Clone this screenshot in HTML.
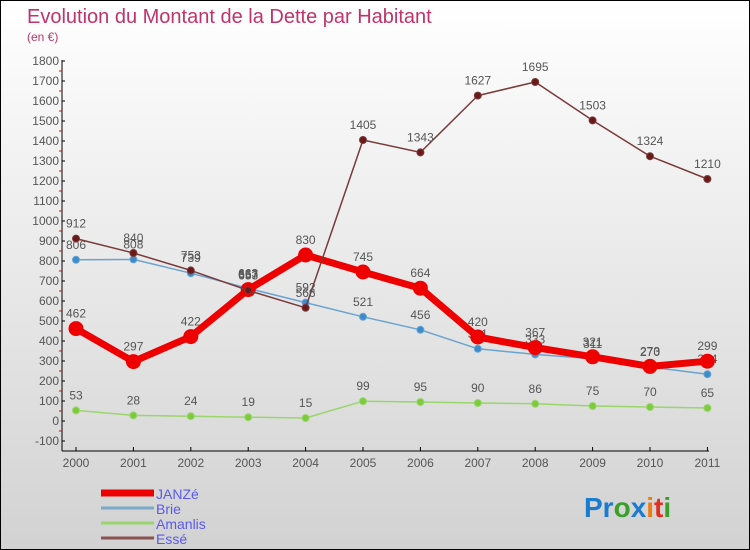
<!DOCTYPE html>
<html><head><meta charset="utf-8"><style>
body{margin:0}
#c{width:748px;height:548px;border:1px solid #000;background:linear-gradient(#fff,#d2d2d2);position:relative;font-family:"Liberation Sans",sans-serif;overflow:hidden}
</style></head><body>
<div id="c">
<svg id="s" width="748" height="548" style="position:absolute;left:0;top:0">
<text x="26" y="22" font-size="20" fill="#c0336a">Evolution du Montant de la Dette par Habitant</text>
<text x="26" y="40" font-size="12" fill="#c0336a">(en €)</text>
<g id="ax"></g><g id="ser"></g>
<text x="583" y="516" font-size="28" font-weight="bold"><tspan fill="#1a7bd0">Pr</tspan><tspan fill="#3aa02a">o</tspan><tspan fill="#1a7bd0">x</tspan><tspan fill="#f07a10">i</tspan><tspan fill="#e03020">t</tspan><tspan fill="#3aa02a">i</tspan></text>
</svg>
</div>
<script>
const years=[2000,2001,2002,2003,2004,2005,2006,2007,2008,2009,2010,2011];
const yTicks=[-100,0,100,200,300,400,500,600,700,800,900,1000,1100,1200,1300,1400,1500,1600,1700,1800];
const janze=[462,297,422,657,830,745,664,420,367,321,273,299];
const brie=[806,808,739,663,592,521,456,361,333,311,270,234];
const amanlis=[53,28,24,19,15,99,95,90,86,75,70,65];
const esse=[912,840,753,653,566,1405,1343,1627,1695,1503,1324,1210];
const NS="http://www.w3.org/2000/svg";
const X=i=>75+i*57.4, Y=v=>420-v*0.2;
function mk(t,a,p){const e=document.createElementNS(NS,t);for(const k in a)e.setAttribute(k,a[k]);p.appendChild(e);return e;}
const ax=document.getElementById('ax'),ser=document.getElementById('ser');
let e=mk('line',{x1:61,y1:59,x2:61,y2:450,stroke:'#000'},ax);


e=mk('line',{x1:61,y1:450,x2:708,y2:450,stroke:'#000'},ax);


yTicks.forEach(v=>{mk('line',{x1:61,x2:64,y1:Y(v),y2:Y(v),stroke:'#000'},ax);
if(v<1800)mk('line',{x1:58,x2:61,y1:Y(v)-10,y2:Y(v)-10,stroke:'#e00'},ax);
const t=mk('text',{x:58,y:Y(v)+4,'font-size':12,'text-anchor':'end',fill:'#555'},ax);t.textContent=v;

});
years.forEach((y,i)=>{mk('line',{x1:X(i),x2:X(i),y1:446,y2:450,stroke:'#000'},ax);
const t=mk('text',{x:X(i),y:466,'font-size':12,'text-anchor':'middle',fill:'#555'},ax);t.textContent=y;

});
function series(d,col,w,r,dot,name){
const g=mk('g',{},ser);


mk('polyline',{points:d.map((v,i)=>X(i)+','+Y(v)).join(' '),fill:'none',stroke:col,'stroke-width':w,'stroke-linejoin':'round'},g);
d.forEach((v,i)=>{const c=mk('circle',{cx:X(i),cy:Y(v),r:r,fill:dot,stroke:col,'stroke-width':1},g);


const t=mk('text',{x:X(i),y:Y(v)-11,'font-size':12,'text-anchor':'middle',fill:'#555'},g);t.textContent=v;

});}
series(amanlis,'#9ad66b',1.5,3.5,'#7ccb3c','amanlis');
series(brie,'#6aa3d0',1.5,3.5,'#3a8ccc','brie');
series(janze,'#ee0000',7,7,'#ee0000','janze');
series(esse,'#7a3a3a',1.5,3.5,'#6a1a1a','esse');
const leg=[['JANZé','#ee0000',7],['Brie','#7ba9c9',3],['Amanlis','#9ad66b',3],['Essé','#8b5050',3]];
leg.forEach((l,i)=>{const y=492+i*15;
const g=mk('g',{},ax);


mk('line',{x1:100,x2:153,y1:y,y2:y,stroke:l[1],'stroke-width':l[2]},g);
const t=mk('text',{x:155,y:y+6,'font-size':14,fill:'#5a5aee'},g);t.textContent=l[0];});
</script>
</body></html>
